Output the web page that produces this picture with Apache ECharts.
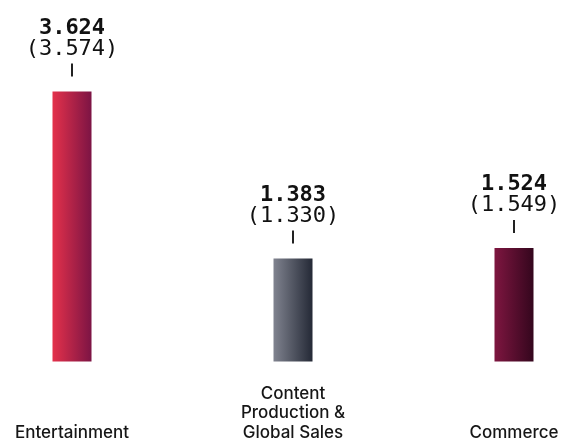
<!DOCTYPE html>
<html>
<head>
<meta charset="utf-8">
<script src="https://cdn.jsdelivr.net/npm/echarts@6/dist/echarts.min.js"></script>
<style>
  html, body { margin: 0; padding: 0; background: #ffffff; }
  #chart { width: 566px; height: 443px; }
</style>
</head>
<body>
<div id="chart"></div>
<script>
// Segment revenue, current year and prior year (in brackets)
const categories = ['Entertainment', 'Content\nProduction &\nGlobal Sales', 'Commerce'];
const currentValues = [3.624, 1.383, 1.524];
const priorValues = [3.574, 1.330, 1.549];
const barColors = [
  ['#e4314b', '#7c1444'],
  ['#80838f', '#242936'],
  ['#7e1640', '#34061d']
];

const fmt = v => v.toFixed(3);

const chart = echarts.init(document.getElementById('chart'), null, { renderer: 'canvas' });

chart.setOption({
  animation: false,
  backgroundColor: '#ffffff',
  grid: { left: 72, right: 52, top: 63.5, bottom: 81.5, containLabel: false },
  xAxis: {
    type: 'category',
    data: categories,
    boundaryGap: false,
    axisLine: { show: false },
    axisTick: { show: false },
    splitLine: { show: false },
    axisLabel: {
      interval: 0,
      margin: 81,
      verticalAlign: 'bottom',
      align: 'center',
      fontFamily: 'Inter',
      fontWeight: 500,
      fontSize: 17,
      lineHeight: 19.5,
      color: '#161616'
    }
  },
  yAxis: {
    type: 'value',
    min: 0,
    max: 4,
    show: false,
    splitLine: { show: false }
  },
  series: [{
    type: 'bar',
    barWidth: 39,
    data: currentValues.map((v, i) => ({
      value: v,
      itemStyle: {
        color: new echarts.graphic.LinearGradient(0, 0, 1, 0, [
          { offset: 0, color: barColors[i][0] },
          { offset: 1, color: barColors[i][1] }
        ])
      }
    })),
    label: {
      show: true,
      position: 'top',
      distance: 15,
      formatter: p => '{cur|' + fmt(currentValues[p.dataIndex]) + '}\n{prev|(' +
        fmt(priorValues[p.dataIndex]) + ')}\n{gap|}\n{tick|}',
      rich: {
        cur: {
          fontFamily: 'DejaVu Sans Mono',
          fontWeight: 'bold',
          fontSize: 22,
          lineHeight: 21,
          color: '#111111',
          align: 'center'
        },
        prev: {
          fontFamily: 'DejaVu Sans Mono',
          fontSize: 22,
          lineHeight: 21,
          color: '#111111',
          align: 'center'
        },
        gap: { height: 4, lineHeight: 4, align: 'center' },
        tick: {
          width: 2,
          height: 13,
          lineHeight: 13,
          backgroundColor: '#222222',
          align: 'center'
        }
      }
    }
  }]
});
</script>
</body>
</html>
